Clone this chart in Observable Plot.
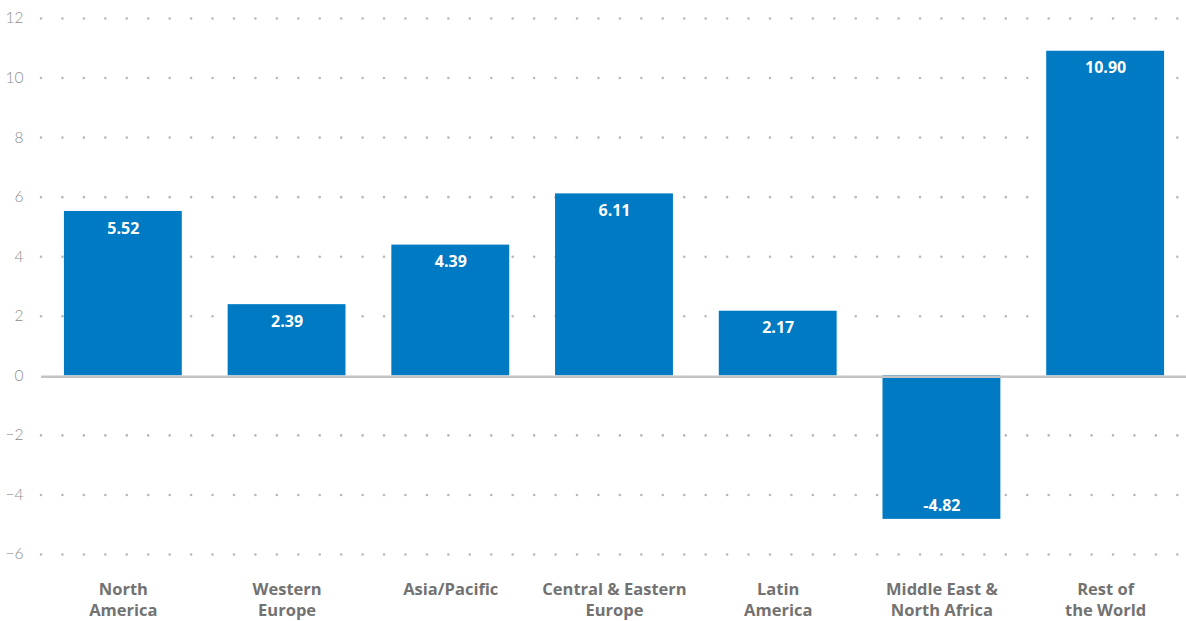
<!DOCTYPE html>
<html>
<head>
<meta charset="utf-8">
<script src="https://cdn.jsdelivr.net/npm/d3@7"></script>
<script src="https://cdn.jsdelivr.net/npm/@observablehq/plot@0.6"></script>
<style>
  html, body { margin: 0; padding: 0; background: #fff; }
  #chart svg { display: block; }
</style>
</head>
<body>
<div id="chart"></div>
<script>
const categories = ["North\nAmerica", "Western\nEurope", "Asia/Pacific", "Central & Eastern\nEurope", "Latin\nAmerica", "Middle East &\nNorth Africa", "Rest of\nthe World"];
const values = [5.52, 2.39, 4.39, 6.11, 2.17, -4.82, 10.90];
const yTicks = [-6, -4, -2, 0, 2, 4, 6, 8, 10, 12];
const gridTicks = [-6, -4, -2, 2, 4, 6, 8, 10, 12];

const data = categories.map((c, i) => ({category: c, value: values[i]}));

const blue = "#007ac2";

const chart = Plot.plot({
  width: 1186,
  height: 621,
  marginLeft: 41,
  marginRight: 0,
  marginTop: 18,
  marginBottom: 67,
  style: {fontFamily: "'Open Sans', sans-serif", background: "#fff"},
  x: {domain: categories, paddingInner: 0.28, paddingOuter: 0.14, range: [41, 1187], round: false, label: null},
  y: {domain: [-6, 12], label: null},
  marks: [
    Plot.ruleY(gridTicks, {stroke: "#b8b8b8", strokeWidth: 2.6, strokeDasharray: "0.01 21.43", strokeLinecap: "round"}),
    Plot.barY(data, {x: "category", y: "value", fill: blue}),
    Plot.ruleY([0], {stroke: "#c4c4c4", strokeWidth: 2.5, dy: 1}),
    Plot.text(data.filter(d => d.value >= 0), {
      x: "category", y: "value",
      text: d => d.value.toFixed(2),
      dy: 17,
      fill: "white", fontWeight: 700, fontSize: 16
    }),
    Plot.text(data.filter(d => d.value < 0), {
      x: "category", y: "value",
      text: d => d.value.toFixed(2),
      dy: -13,
      fill: "white", fontWeight: 700, fontSize: 16
    }),
    Plot.axisY(yTicks, {tickSize: 0, tickPadding: 18, fontSize: 15.5, fill: "#8c8c8c", fontWeight: 300, fontFamily: "Lato, sans-serif", label: null}),
    Plot.axisX({tickSize: 0, tickPadding: 26, fontSize: 16.5, fontWeight: 700, fill: "#727272", lineHeight: 1.27, label: null})
  ]
});

document.getElementById("chart").appendChild(chart);
</script>
</body>
</html>
